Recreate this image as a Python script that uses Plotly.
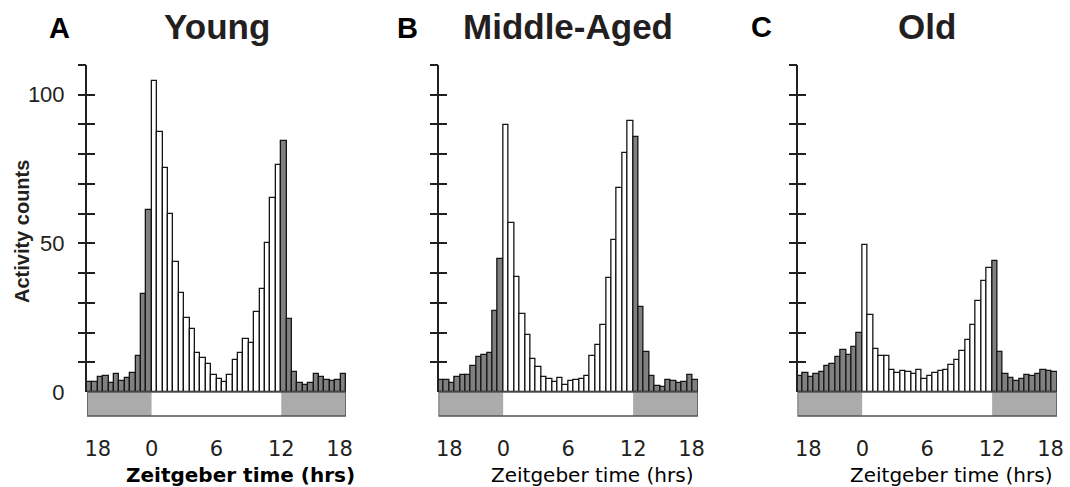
import plotly.graph_objects as go

# ---------------- data ----------------
panel_letters = ["A", "B", "C"]
panel_titles = ["Young", "Middle-Aged", "Old"]

# 30-min bins from ZT18 (previous day, -6 h) to ZT18 (+18 h); bin centres in hours
bin_width_h = 0.5
zt_bins = [-6 + bin_width_h * i + bin_width_h / 2 for i in range(48)]

young = [3.4, 3.2, 5.0, 5.5, 3.1, 5.9, 3.6, 4.6, 6.4, 12.2, 32.8, 61.1,
         104.7, 87.4, 75.3, 60.0, 43.8, 33.2, 25.0, 21.2, 13.0, 11.4, 9.5, 5.6,
         4.5, 3.2, 5.7, 10.8, 13.1, 17.8, 16.6, 26.8, 34.6, 50.0, 65.3, 76.4,
         84.5, 24.4, 6.7, 3.1, 2.2, 3.0, 6.1, 4.9, 4.1, 3.7, 3.9, 6.0]
middle_aged = [4.0, 4.0, 3.0, 4.9, 5.6, 5.6, 8.8, 11.8, 12.5, 13.1, 27.4, 44.6,
               89.9, 56.9, 38.7, 26.3, 19.2, 11.2, 8.3, 4.9, 4.5, 3.4, 4.7, 2.2,
               3.8, 3.9, 4.5, 5.4, 12.2, 15.8, 22.7, 38.2, 51.1, 68.5, 80.3, 91.0,
               85.9, 28.7, 13.3, 5.3, 2.1, 1.7, 4.1, 3.8, 3.0, 3.4, 5.7, 4.1]
old = [5.5, 6.3, 5.1, 5.9, 6.8, 8.8, 9.4, 11.8, 14.1, 12.4, 15.3, 19.8,
       49.4, 25.9, 14.6, 12.2, 12.2, 7.5, 6.4, 6.9, 6.7, 6.0, 7.3, 4.5,
       5.5, 6.4, 6.9, 7.5, 9.1, 10.9, 13.7, 17.5, 22.6, 30.5, 37.3, 41.8,
       44.2, 13.3, 6.1, 4.7, 3.8, 4.4, 5.8, 5.3, 6.1, 7.5, 6.9, 6.7]
series = [young, middle_aged, old]

lights_on = 0    # ZT0
lights_off = 12  # ZT12
x_start, x_end = -6, 18

x_tick_hours = [-6, 0, 6, 12, 18]
x_tick_labels = ["18", "0", "6", "12", "18"]
y_tick_minor = [10, 20, 30, 40, 50, 60, 70, 80, 90, 100, 110]
y_tick_labeled = [0, 50, 100]
y_max = 110

# ---------------- layout constants ----------------
W, H = 1070, 487
panel_px = [(87, 346), (438.5, 698), (797.5, 1057)]
y_bottom_px, y_top_px = 392, 65
strip_px = 24
letter_px = [(59, 28), (407, 28), (761, 27)]

INK = "#231f20"
DARK_FILL = "#808080"
STRIP_GRAY = "#ababab"


def px_x(p):
    return p / W


def px_y(p):
    return 1 - p / H


fig = go.Figure()
layout = dict(
    width=W, height=H,
    margin=dict(l=0, r=0, t=0, b=0, autoexpand=False),
    paper_bgcolor="white", plot_bgcolor="rgba(0,0,0,0)",
    showlegend=False, bargap=0,
    font=dict(family="Liberation Sans, Arial", color=INK),
)
annotations = []
shapes = []

ydom = [px_y(y_bottom_px), px_y(y_top_px)]
strip_frac = strip_px / (y_bottom_px - y_top_px)

# clamp end labels so they sit inside the light/dark strip as in the original
tick_pos = [min(max(h, x_start + 1.0), x_end - 0.6) for h in x_tick_hours]

for i in range(3):
    n = i + 1
    xa = "x" if n == 1 else f"x{n}"
    ya = "y" if n == 1 else f"y{n}"
    xkey = "xaxis" if n == 1 else f"xaxis{n}"
    ykey = "yaxis" if n == 1 else f"yaxis{n}"

    vals = series[i]
    colors = ["white" if lights_on <= h < lights_off else DARK_FILL for h in zt_bins]
    fig.add_trace(go.Bar(
        x=zt_bins, y=vals, width=bin_width_h,
        marker=dict(color=colors, line=dict(color="#151515", width=1.3)),
        xaxis=xa, yaxis=ya, hoverinfo="x+y",
    ))

    x0p, x1p = panel_px[i]
    layout[xkey] = dict(
        domain=[px_x(x0p), px_x(x1p)], range=[x_start, x_end], anchor=ya,
        showgrid=False, zeroline=False, showline=False, ticks="",
        tickvals=tick_pos, ticktext=x_tick_labels, automargin=False,
        tickfont=dict(family="DejaVu Sans", size=21, color=INK),
        ticklabelstandoff=42,
    )
    layout[ykey] = dict(
        domain=ydom, range=[0, y_max], anchor=xa, automargin=False,
        showgrid=False, zeroline=False, showline=True, linecolor=INK, linewidth=2,
        ticks="", tickvals=y_tick_labeled, ticktext=[str(v) for v in y_tick_labeled],
        showticklabels=(n == 1),
        tickfont=dict(family="Liberation Sans, Arial", size=22, color=INK),
        ticklabelstandoff=16,
    )
    # crossing tick marks: one overlay axis ticks outside, one ticks inside
    for k, side in enumerate(["outside", "inside"]):
        idx = 4 + 2 * i + k
        layout[f"yaxis{idx}"] = dict(
            overlaying=ya, anchor=xa, side="left", range=[0, y_max], automargin=False,
            showgrid=False, zeroline=False, showline=False, showticklabels=False,
            ticks=side, ticklen=8, tickwidth=2, tickcolor=INK,
            tickvals=y_tick_minor,
        )
        # dummy invisible trace so the overlay axis is drawn
        fig.add_trace(go.Scatter(x=[x_start], y=[0], xaxis=xa, yaxis=f"y{idx}",
                                 mode="markers", marker=dict(opacity=0),
                                 hoverinfo="skip"))

    # light/dark bar below the histogram
    for (a, b, c) in [(x_start, lights_on, STRIP_GRAY), (lights_on, lights_off, "white"),
                      (lights_off, x_end, STRIP_GRAY)]:
        shapes.append(dict(type="rect", xref=xa, yref=f"{ya} domain",
                           x0=a, x1=b, y0=-strip_frac, y1=0,
                           fillcolor=c, line=dict(width=0), layer="above"))
    shapes.append(dict(type="rect", xref=xa, yref=f"{ya} domain",
                       x0=x_start, x1=x_end, y0=-strip_frac, y1=0,
                       fillcolor="rgba(0,0,0,0)", line=dict(color="#555555", width=1.5),
                       layer="above"))

    # panel title
    annotations.append(dict(
        text=panel_titles[i], xref=f"{xa} domain", yref="paper", x=0.5, y=px_y(26),
        xanchor="center", yanchor="middle", showarrow=False,
        font=dict(family="Liberation Sans, Arial", size=35, color=INK, weight="bold"),
    ))
    # panel letter
    lx, ly = letter_px[i]
    annotations.append(dict(
        text=panel_letters[i], xref="paper", yref="paper", x=px_x(lx), y=px_y(ly),
        xanchor="center", yanchor="middle", showarrow=False,
        font=dict(family="Liberation Sans, Arial", size=29, color="black", weight="bold"),
    ))
    # x-axis title
    annotations.append(dict(
        text="Zeitgeber time (hrs)", xref="paper", yref="paper",
        x=px_x((x0p + x1p) / 2 + 24), y=px_y(475),
        xanchor="center", yanchor="middle", showarrow=False,
        font=dict(family="DejaVu Sans", size=20, color="black",
                  weight="bold" if n == 1 else "normal"),
    ))

annotations.append(dict(
    text="Activity counts", xref="paper", yref="paper", x=px_x(22), y=px_y(232),
    xanchor="center", yanchor="middle", textangle=-90, showarrow=False,
    font=dict(family="Liberation Sans, Arial", size=20, color=INK, weight="bold"),
))

layout["annotations"] = annotations
layout["shapes"] = shapes
fig.update_layout(**layout)
fig.write_html("out.html")
